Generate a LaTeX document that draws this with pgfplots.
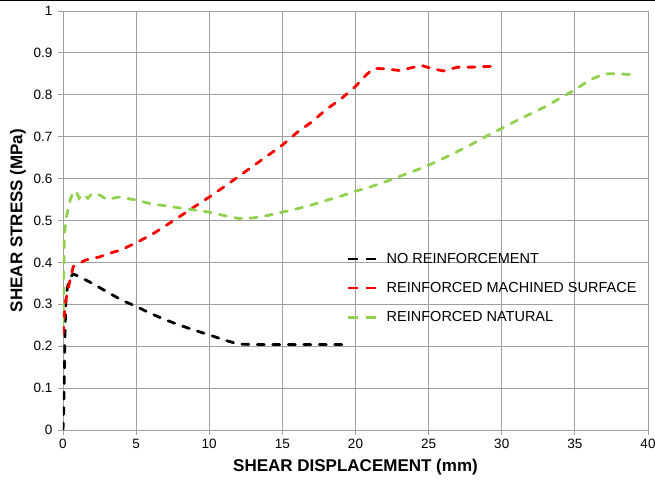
\documentclass[border=0pt]{standalone}
\usepackage{pgfplots}
\pgfplotsset{compat=1.18}
\usepackage{fontspec}
\setmainfont{Liberation Sans}
\definecolor{exgreen}{RGB}{146,208,80}
\definecolor{gridgray}{RGB}{160,160,160}
\begin{document}
\begin{tikzpicture}[x=1pt,y=1pt]
\path[use as bounding box] (-63,-51) rectangle (592,430);
\draw[black,line width=1pt] (-63,429.5) -- (592,429.5);
\begin{axis}[
  at={(0,0)}, anchor=south west,
  scale only axis, width=585pt, height=419pt,
  xmin=0, xmax=40, ymin=0, ymax=1,
  xtick={0,5,...,40}, ytick={0,0.1,...,1.0},
  yticklabels={0,0.1,0.2,0.3,0.4,0.5,0.6,0.7,0.8,0.9,1},
  grid=major,
  grid style={gridgray, line width=0.8pt},
  axis line style={gridgray, line width=0.8pt},
  tick style={gridgray, line width=0.8pt},
  major tick length=5pt,
  tick align=outside,
  xtick pos=bottom, ytick pos=left,
  ticklabel style={font=\fontsize{13.5}{15}\selectfont, text=black},
  yticklabel style={xshift=-2pt},
  xticklabel style={yshift=-1pt},
  /pgf/number format/assume math mode=true,
  xlabel={\textbf{SHEAR DISPLACEMENT (mm)}},
  ylabel={\textbf{SHEAR STRESS (MPa)}},
  label style={font=\fontsize{17}{19}\selectfont},
  xlabel style={at={(axis description cs:0.5,0)}, anchor=center, yshift=-37pt},
  ylabel style={at={(axis description cs:0,0.5)}, anchor=center, rotate=0, yshift=45pt},
  legend style={draw=none, fill=none, at={(rel axis cs:0.485,0.425)}, anchor=north west,
     font=\fontsize{14.5}{16}\selectfont, row sep=15.5pt, inner sep=0pt,
     nodes={inner sep=1pt}},
  legend cell align=left,
  legend image code/.code={\draw[#1, line cap=butt, dash pattern=on 10pt off 8pt] (0pt,0pt) -- (28pt,0pt); \path (36pt,0pt);},
  every axis plot/.append style={line width=2.8pt, line cap=round, dash pattern=on 7pt off 8.5pt},
]
\addplot[black] coordinates {
(0,0) (0.05,0.05) (0.1,0.15) (0.15,0.25) (0.2,0.31) (0.3,0.34) (0.5,0.365) (0.7,0.372)
(1,0.368) (2,0.35) (3,0.33) (4,0.31) (5,0.295) (6,0.278) (7,0.263) (8,0.25) (9,0.238)
(10,0.227) (11,0.215) (12,0.205) (13,0.204) (15,0.204) (17,0.204) (19.5,0.204)
};
\addlegendentry{NO REINFORCEMENT}
\addplot[red] coordinates {
(0,0.23) (0.1,0.28) (0.2,0.31) (0.3,0.33) (0.5,0.36) (0.7,0.39) (1,0.395) (1.5,0.405)
(2,0.41) (2.5,0.413) (3,0.42) (4,0.43) (5,0.447) (6,0.465) (7,0.487) (8,0.51) (9,0.533)
(10,0.556) (11,0.58) (12,0.605) (13,0.63) (14,0.655) (15,0.68) (16,0.71) (17,0.735)
(18,0.765) (19,0.79) (20,0.82) (20.8,0.85) (21.3,0.863) (22,0.862) (23,0.858) (24,0.866)
(24.5,0.87) (25.3,0.862) (26,0.857) (27,0.866) (28,0.866) (29.3,0.868)
};
\addlegendentry{REINFORCED MACHINED SURFACE}
\addplot[exgreen] coordinates {
(0,0.25) (0.05,0.38) (0.1,0.47) (0.2,0.5) (0.3,0.52) (0.5,0.55) (0.7,0.568) (0.9,0.57)
(1.1,0.553) (1.4,0.563) (1.7,0.553) (2,0.565) (2.5,0.561) (3,0.55) (3.8,0.556)
(5,0.549) (6,0.54) (7,0.535) (8,0.53) (9,0.525) (10,0.52) (11,0.512) (12,0.505)
(13,0.506) (14,0.512) (15,0.52) (16,0.528) (17,0.537) (18,0.548) (19,0.558) (20,0.57)
(21,0.58) (22,0.592) (23,0.605) (24,0.618) (25,0.632) (26,0.648) (27,0.665) (28,0.683)
(29,0.702) (30,0.72) (31,0.738) (32,0.755) (33,0.772) (34,0.792) (35,0.812) (36,0.835)
(37,0.85) (38,0.85) (39,0.848)
};
\addlegendentry{REINFORCED NATURAL}
\end{axis}
\end{tikzpicture}
\end{document}
